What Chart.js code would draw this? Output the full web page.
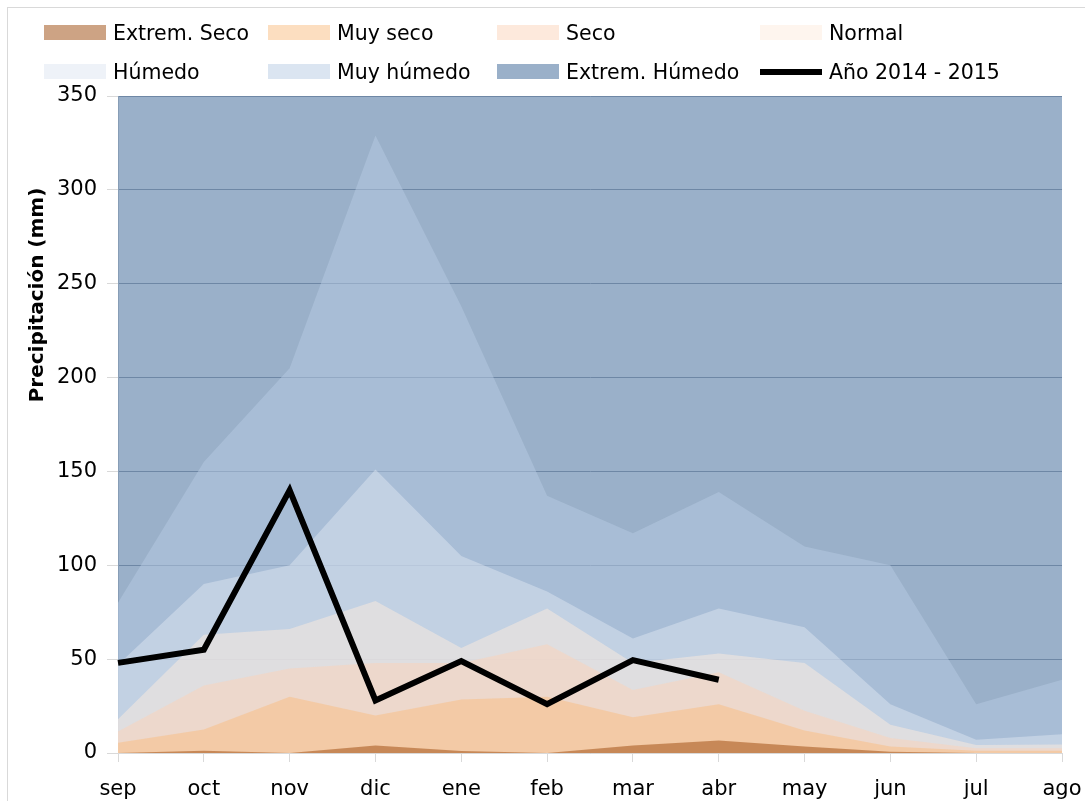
<!DOCTYPE html>
<html>
<head>
<meta charset="utf-8">
<script src="https://cdn.jsdelivr.net/npm/chart.js@4.4.0/dist/chart.umd.min.js"></script>
<style>
    body { margin: 0; background: #fff; overflow: hidden; }
    #wrap { position: relative; width: 1085px; height: 801px; }
    #frame { position: absolute; left: 7px; top: 7px; width: 1200px; height: 1000px; border: 1px solid #d9d9d9; pointer-events: none; }
    #legend { position: absolute; left: 0; top: 0; font-family: 'DejaVu Sans'; font-size: 20.5px; color: #000; }
    .item { position: absolute; height: 24px; white-space: nowrap; }
    .box { position: absolute; left: 0; top: 4px; width: 62px; height: 15px; }
    .label { position: absolute; left: 69px; top: 0; line-height: 24px; }
</style>
</head>
<body onload="init()">
<div id="wrap">
    <canvas id="myChart" width="1085" height="801"></canvas>
    <div id="legend"></div>
    <div id="frame"></div>
</div>
<script>
let months = ['sep', 'oct', 'nov', 'dic', 'ene', 'feb', 'mar', 'abr', 'may', 'jun', 'jul', 'ago'];
let yTicks = [0, 50, 100, 150, 200, 250, 300, 350];
let yTitle = 'Precipitación (mm)';

// umbrales de cada categoria (mm)
let extremHumedo = [350, 350, 350, 350, 350, 350, 350, 350, 350, 350, 350, 350];
let muyHumedo = [80, 155, 205, 329, 238, 137, 117, 139, 110, 100, 26, 39];
let humedo = [47, 90, 100, 151, 105, 86, 61, 77, 67, 26, 7, 10];
let normal = [18, 63, 66, 81, 56, 77, 48, 53, 48, 15, 4.3, 4.5];
let seco = [11.5, 36, 45, 48, 48, 58, 33.5, 43, 22.5, 8, 2.5, 2.5];
let muySeco = [5.5, 12.5, 30, 20, 28.5, 30, 19, 26, 12, 3.5, 1.2, 1.2];
let extremSeco = [0, 1.2, 0, 4, 1, 0, 4, 6.6, 3.4, 0.7, 0, 0];
let anio = [48, 55, 140, 28, 49, 26, 49.5, 39, null, null, null, null];

let myChart;

function area(label, values, color, order) {
    return {
        label: label,
        data: values,
        backgroundColor: color,
        borderWidth: 0,
        pointRadius: 0,
        fill: 'origin',
        tension: 0,
        order: order
    };
}

let data = {
    labels: months,
    datasets: [
        area('Extrem. Seco', extremSeco, 'rgba(155,71,9,0.5)', 1),
        area('Muy seco', muySeco, 'rgba(249,189,129,0.5)', 2),
        area('Seco', seco, 'rgba(251,211,185,0.5)', 3),
        area('Normal', normal, 'rgba(253,235,221,0.5)', 4),
        area('Húmedo', humedo, 'rgba(221,229,241,0.5)', 5),
        area('Muy húmedo', muyHumedo, 'rgba(183,203,227,0.5)', 6),
        area('Extrem. Húmedo', extremHumedo, 'rgba(53,97,147,0.5)', 7),
        {
            label: 'Año 2014 - 2015',
            data: anio,
            borderColor: '#000',
            backgroundColor: '#000',
            borderWidth: 6,
            borderJoinStyle: 'miter',
            borderCapStyle: 'butt',
            pointRadius: 0,
            fill: false,
            tension: 0,
            spanGaps: false,
            order: 0
        }
    ]
};

// titulo del eje Y, un poco por encima del centro como en el original
const yTitlePlugin = {
    id: 'yTitle',
    afterDraw(chart) {
        let ctx = chart.ctx;
        ctx.save();
        ctx.translate(38, 295);
        ctx.rotate(-Math.PI / 2);
        ctx.font = 'bold 20px "DejaVu Sans"';
        ctx.fillStyle = '#000';
        ctx.textAlign = 'center';
        ctx.textBaseline = 'middle';
        ctx.fillText(yTitle, 0, 0);
        ctx.restore();
    }
};

const config = {
    type: 'line',
    data: data,
    options: {
        responsive: false,
        animation: false,
        devicePixelRatio: 1,
        layout: {
            padding: { top: 96, left: 0, right: 23, bottom: 0 }
        },
        plugins: {
            legend: { display: false },
            tooltip: { enabled: false }
        },
        scales: {
            x: {
                offset: false,
                grid: {
                    drawOnChartArea: false,
                    color: '#d9d9d9',
                    tickColor: '#d9d9d9',
                    tickLength: 9
                },
                border: { color: '#d9d9d9' },
                ticks: {
                    color: '#000',
                    padding: 15,
                    maxRotation: 0,
                    autoSkip: false,
                    font: { family: 'DejaVu Sans', size: 21 }
                },
                afterFit: function (scale) {
                    scale.height = 48;
                    scale.paddingLeft = 0;
                    scale.paddingRight = 0;
                }
            },
            y: {
                min: 0,
                max: 350,
                afterBuildTicks: function (scale) {
                    scale.ticks = yTicks.map(v => ({ value: v }));
                },
                grid: {
                    color: 'rgb(167,173,183)',
                    tickColor: '#d9d9d9',
                    tickLength: 11
                },
                border: { color: '#d9d9d9' },
                ticks: {
                    color: '#000',
                    padding: 10,
                    font: { family: 'DejaVu Sans', size: 21 }
                },
                afterFit: function (scale) {
                    scale.width = 118;
                }
            }
        }
    },
    plugins: [yTitlePlugin]
};

// leyenda en dos filas de cuatro columnas
let legendCols = [44, 268, 497, 760];
let legendRows = [21, 60];

function renderLegend() {
    let legend = document.getElementById('legend');
    legend.innerHTML = '';
    let sets = myChart.data.datasets;
    for (let i = 0; i < sets.length; i++) {
        let ds = sets[i];
        let x = legendCols[i % 4];
        let y = legendRows[Math.floor(i / 4)];
        let box;
        if (ds.fill === false) {
            box = `<div class="box" style="top:9px;height:6px;background:${ds.borderColor}"></div>`;
        } else {
            box = `<div class="box" style="background:${ds.backgroundColor}"></div>`;
        }
        legend.innerHTML += `
        <div class="item" style="left:${x}px;top:${y}px">
            ${box}
            <span class="label">${ds.label}</span>
        </div>`;
    }
}

function init() {
    myChart = new Chart(
        document.getElementById('myChart'),
        config
    );
    renderLegend();
}
</script>
</body>
</html>
